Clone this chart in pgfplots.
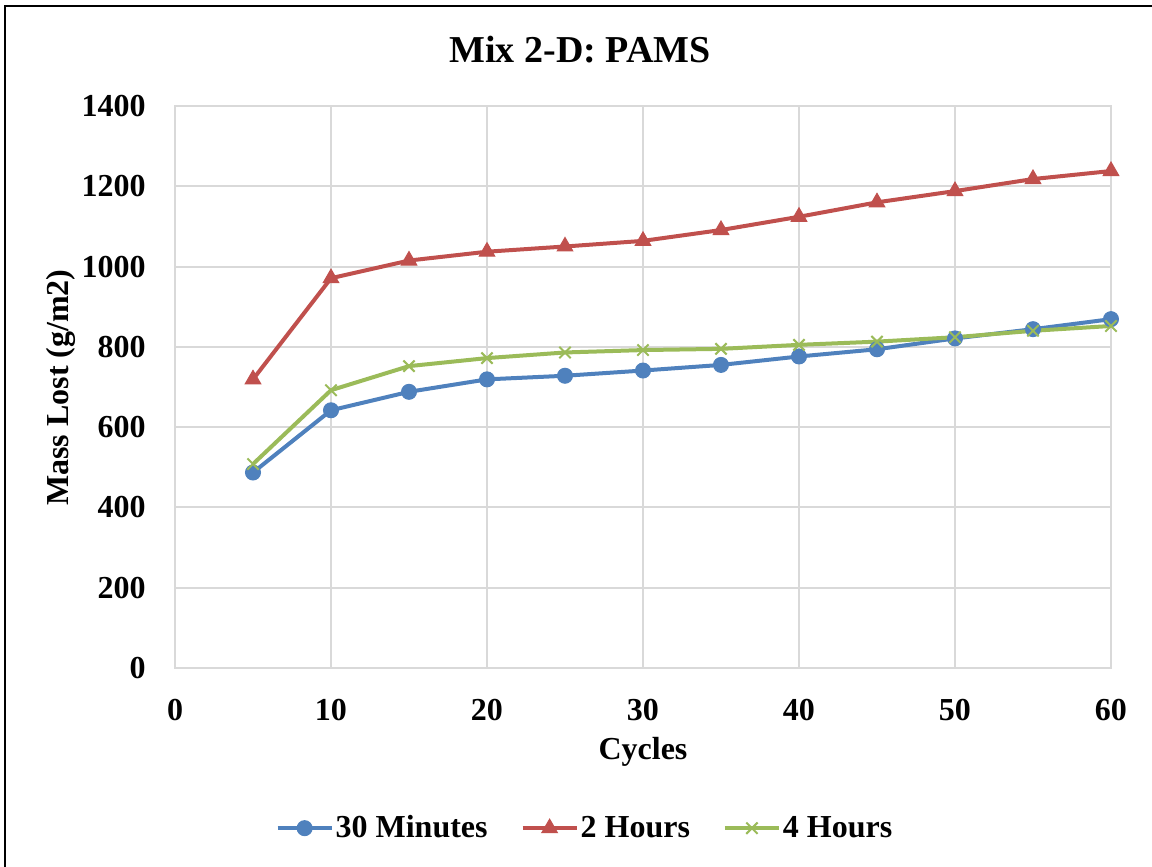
\documentclass[border=0pt]{standalone}
\usepackage{fontspec}
\setmainfont{Liberation Serif}
\usepackage{pgfplots}
\pgfplotsset{compat=1.18}
\definecolor{cblue}{HTML}{4F81BD}
\definecolor{cred}{HTML}{C0504D}
\definecolor{cgreen}{HTML}{9BBB59}
\definecolor{gridgray}{HTML}{D9D9D9}
\begin{document}
\begin{tikzpicture}
\path[use as bounding box] (0bp,0bp) rectangle (576bp,433.5bp);
\draw[line width=1bp] (2.5bp,0bp) -- (2.5bp,430.5bp) -- (576bp,430.5bp);
\node[font=\fontsize{19bp}{22bp}\selectfont\bfseries] at (290bp,408.5bp) {Mix 2-D: PAMS};
\begin{axis}[
  at={(87.5bp,99.5bp)}, anchor=south west,
  scale only axis, width=468bp, height=281bp,
  xmin=0, xmax=60, ymin=0, ymax=1400,
  xtick={0,10,...,60}, ytick={0,200,...,1400},
  grid=major,
  grid style={draw=gridgray, line width=1bp},
  axis line style={draw=gridgray, line width=1bp},
  tick style={draw=none},
  clip=false,
  /pgf/number format/assume math mode=true,
  /pgf/number format/1000 sep={},
  tick label style={font=\fontsize{16bp}{19bp}\selectfont\bfseries, inner sep=0pt},
  yticklabel style={anchor=east, xshift=-14.5bp},
  xticklabel style={anchor=north, yshift=-15.5bp},
  xlabel={Cycles},
  ylabel={Mass Lost (g/m2)},
  label style={font=\fontsize{16bp}{19bp}\selectfont\bfseries},
  xlabel style={at={(axis description cs:0.5,-0.163)}, anchor=base},
  ylabel style={at={(axis description cs:-0.1143,0.499)}, anchor=base},
  legend columns=3,
  legend style={at={(axis description cs:0.438,-0.285)}, anchor=center, draw=none,
    font=\fontsize{16bp}{19bp}\selectfont\bfseries,
    nodes={inner sep=1bp},
    /tikz/every even column/.append style={column sep=15.5bp}},
  legend image code/.code={\draw[mark repeat=2,mark phase=2,#1] plot coordinates {(0bp,0bp) (13.5bp,0bp) (27bp,0bp)};},
]
\addplot[color=cblue, line width=2bp, mark=*, mark size=3.75bp, mark options={line width=0.5bp}]
coordinates {(5,487)(10,642)(15,688)(20,719)(25,728)(30,741)(35,755)(40,776)(45,794)(50,821)(55,844)(60,869)};
\addlegendentry{30 Minutes}
\addplot[color=cred, line width=2bp, mark=triangle*, mark size=4.5bp, mark options={line width=0.5bp}]
coordinates {(5,719)(10,971)(15,1015)(20,1037)(25,1050)(30,1064)(35,1091)(40,1124)(45,1160)(50,1188)(55,1218)(60,1238)};
\addlegendentry{2 Hours}
\addplot[color=cgreen, line width=2bp, mark=x, mark size=4bp, mark options={line width=1bp}]
coordinates {(5,508)(10,692)(15,752)(20,772)(25,786)(30,792)(35,795)(40,805)(45,813)(50,824)(55,840)(60,852)};
\addlegendentry{4 Hours}
\end{axis}
\end{tikzpicture}
\end{document}
